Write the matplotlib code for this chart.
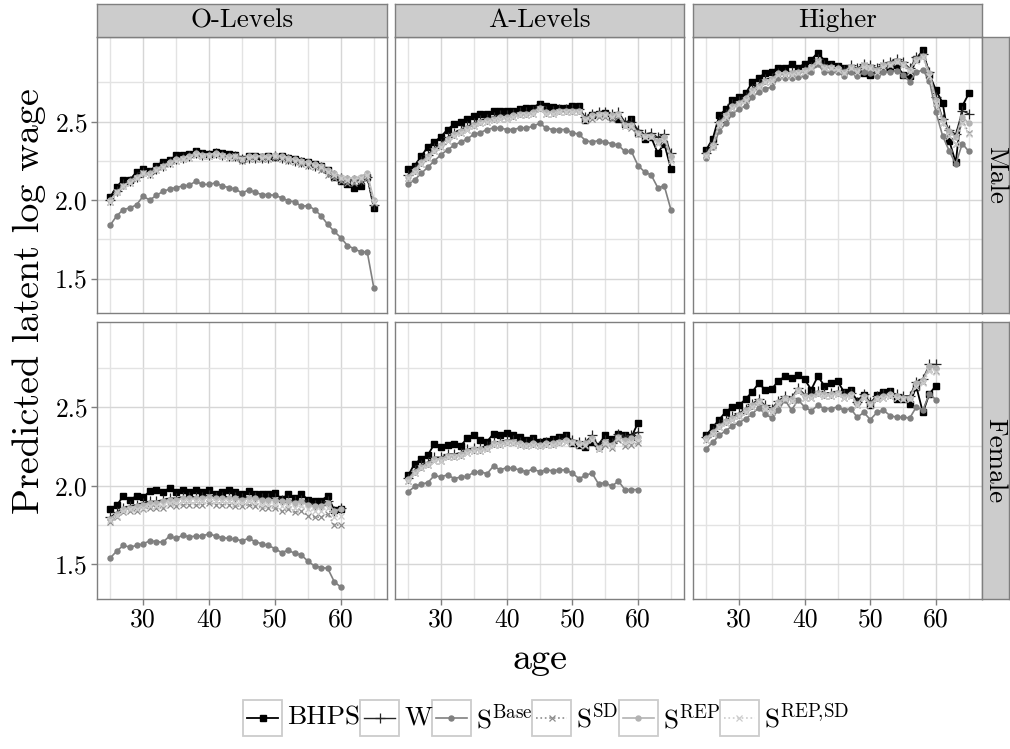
import numpy as np
import matplotlib
matplotlib.use('Agg')
import matplotlib.pyplot as plt
from matplotlib.patches import Rectangle
from matplotlib.lines import Line2D

# --- style: Computer Modern look, ggplot theme_bw colours ---
plt.rcParams['font.family'] = 'cmr10'
plt.rcParams['mathtext.fontset'] = 'cm'
plt.rcParams['axes.unicode_minus'] = False
plt.rcParams['axes.formatter.use_mathtext'] = True

# --- data ---
ages_male = list(range(25, 66))
ages_female = list(range(25, 61))

educations = ['O-Levels', 'A-Levels', 'Higher']
sexes = ['Male', 'Female']

# O-Levels, male
o_m_bhps = [2.02, 2.085, 2.13, 2.13, 2.18, 2.20, 2.185, 2.22, 2.245, 2.255, 2.285, 2.285, 2.295, 2.31, 2.30,
            2.295, 2.305, 2.30, 2.295, 2.29, 2.26, 2.28, 2.28, 2.275, 2.28, 2.275, 2.28, 2.27, 2.265, 2.25,
            2.245, 2.23, 2.22, 2.19, 2.15, 2.12, 2.10, 2.08, 2.09, 2.15, 1.95]
o_m_w = [2.00, 2.06, 2.10, 2.12, 2.15, 2.18, 2.17, 2.20, 2.22, 2.24, 2.26, 2.27, 2.28, 2.30, 2.29, 2.29, 2.30,
         2.29, 2.28, 2.28, 2.26, 2.27, 2.27, 2.27, 2.27, 2.28, 2.27, 2.26, 2.25, 2.24, 2.23, 2.22, 2.21, 2.18,
         2.16, 2.14, 2.13, 2.13, 2.13, 2.15, 1.97]
o_m_base = [1.84, 1.90, 1.94, 1.95, 1.97, 2.025, 2.00, 2.03, 2.055, 2.07, 2.08, 2.09, 2.095, 2.12, 2.10, 2.10,
            2.11, 2.09, 2.08, 2.07, 2.045, 2.065, 2.05, 2.035, 2.035, 2.03, 2.015, 1.995, 1.99, 1.96, 1.965,
            1.94, 1.90, 1.845, 1.80, 1.76, 1.71, 1.69, 1.67, 1.67, 1.44]
o_m_sd = [1.99, 2.05, 2.09, 2.11, 2.14, 2.17, 2.16, 2.19, 2.21, 2.23, 2.25, 2.26, 2.27, 2.29, 2.28, 2.28, 2.29,
          2.28, 2.27, 2.27, 2.25, 2.26, 2.26, 2.26, 2.26, 2.27, 2.26, 2.25, 2.24, 2.23, 2.22, 2.21, 2.19, 2.16,
          2.14, 2.12, 2.11, 2.11, 2.12, 2.14, 1.98]
o_m_rep = [2.00, 2.05, 2.09, 2.12, 2.15, 2.17, 2.17, 2.20, 2.22, 2.24, 2.26, 2.27, 2.28, 2.30, 2.29, 2.29, 2.30,
           2.29, 2.28, 2.28, 2.26, 2.28, 2.28, 2.28, 2.28, 2.29, 2.28, 2.27, 2.26, 2.25, 2.24, 2.23, 2.22, 2.19,
           2.17, 2.15, 2.14, 2.14, 2.15, 2.17, 2.00]
o_m_repsd = [1.99, 2.05, 2.09, 2.11, 2.14, 2.17, 2.16, 2.19, 2.21, 2.23, 2.25, 2.26, 2.27, 2.29, 2.28, 2.28, 2.29,
             2.28, 2.27, 2.28, 2.26, 2.27, 2.27, 2.27, 2.27, 2.28, 2.27, 2.26, 2.25, 2.24, 2.23, 2.22, 2.21, 2.18,
             2.16, 2.14, 2.13, 2.13, 2.14, 2.16, 1.99]

# A-Levels, male
a_m_bhps = [2.20, 2.22, 2.28, 2.34, 2.37, 2.405, 2.45, 2.485, 2.495, 2.52, 2.535, 2.55, 2.55, 2.57, 2.565, 2.57,
            2.565, 2.58, 2.585, 2.59, 2.615, 2.60, 2.595, 2.59, 2.59, 2.60, 2.60, 2.51, 2.54, 2.55, 2.555, 2.53,
            2.515, 2.485, 2.52, 2.43, 2.39, 2.40, 2.30, 2.36, 2.20]
a_m_w = [2.16, 2.20, 2.25, 2.29, 2.33, 2.36, 2.40, 2.43, 2.45, 2.47, 2.49, 2.51, 2.52, 2.53, 2.54, 2.54, 2.55,
         2.56, 2.56, 2.57, 2.60, 2.57, 2.57, 2.58, 2.58, 2.58, 2.58, 2.53, 2.55, 2.56, 2.56, 2.55, 2.56, 2.50,
         2.50, 2.45, 2.42, 2.43, 2.40, 2.42, 2.30]
a_m_base = [2.10, 2.13, 2.17, 2.21, 2.25, 2.29, 2.32, 2.35, 2.37, 2.39, 2.42, 2.43, 2.45, 2.46, 2.46, 2.45, 2.45,
            2.46, 2.46, 2.47, 2.49, 2.46, 2.45, 2.45, 2.45, 2.43, 2.42, 2.38, 2.37, 2.38, 2.37, 2.36, 2.35, 2.31,
            2.31, 2.22, 2.18, 2.16, 2.08, 2.09, 1.94]
a_m_sd = [2.14, 2.18, 2.23, 2.27, 2.31, 2.34, 2.38, 2.41, 2.43, 2.45, 2.47, 2.49, 2.50, 2.51, 2.52, 2.52, 2.53,
          2.54, 2.54, 2.55, 2.58, 2.55, 2.55, 2.56, 2.56, 2.56, 2.56, 2.51, 2.52, 2.53, 2.53, 2.52, 2.53, 2.47,
          2.46, 2.42, 2.40, 2.40, 2.37, 2.39, 2.26]
a_m_rep = [2.15, 2.19, 2.24, 2.28, 2.32, 2.35, 2.39, 2.42, 2.44, 2.46, 2.48, 2.50, 2.51, 2.52, 2.53, 2.53, 2.54,
           2.55, 2.55, 2.56, 2.59, 2.56, 2.56, 2.57, 2.57, 2.57, 2.57, 2.52, 2.54, 2.55, 2.55, 2.54, 2.55, 2.48,
           2.48, 2.43, 2.41, 2.41, 2.38, 2.40, 2.28]
a_m_repsd = [2.14, 2.18, 2.23, 2.27, 2.31, 2.34, 2.38, 2.41, 2.43, 2.45, 2.47, 2.49, 2.50, 2.51, 2.52, 2.52, 2.53,
             2.54, 2.54, 2.55, 2.58, 2.55, 2.55, 2.56, 2.56, 2.56, 2.56, 2.51, 2.53, 2.54, 2.54, 2.53, 2.54, 2.47,
             2.47, 2.42, 2.40, 2.40, 2.36, 2.38, 2.25]

# Higher, male
h_m_bhps = [2.32, 2.39, 2.54, 2.58, 2.64, 2.655, 2.68, 2.75, 2.78, 2.81, 2.82, 2.845, 2.84, 2.87, 2.845, 2.87,
            2.895, 2.94, 2.89, 2.87, 2.855, 2.845, 2.83, 2.815, 2.81, 2.80, 2.82, 2.84, 2.84, 2.86, 2.80, 2.79,
            2.90, 2.955, 2.80, 2.70, 2.62, 2.38, 2.24, 2.60, 2.68]
h_m_w = [2.30, 2.36, 2.50, 2.55, 2.61, 2.63, 2.66, 2.71, 2.74, 2.77, 2.78, 2.81, 2.81, 2.82, 2.82, 2.83, 2.85,
         2.90, 2.86, 2.85, 2.84, 2.83, 2.86, 2.84, 2.87, 2.86, 2.84, 2.87, 2.88, 2.90, 2.88, 2.84, 2.91, 2.93,
         2.82, 2.66, 2.52, 2.45, 2.42, 2.57, 2.55]
h_m_base = [2.27, 2.34, 2.44, 2.49, 2.55, 2.58, 2.60, 2.655, 2.69, 2.71, 2.72, 2.78, 2.78, 2.78, 2.785, 2.79,
            2.82, 2.865, 2.815, 2.815, 2.815, 2.79, 2.82, 2.79, 2.815, 2.81, 2.79, 2.815, 2.82, 2.825, 2.80,
            2.755, 2.815, 2.83, 2.76, 2.56, 2.41, 2.315, 2.23, 2.36, 2.31]
h_m_sd = [2.29, 2.35, 2.48, 2.53, 2.59, 2.61, 2.64, 2.69, 2.72, 2.75, 2.76, 2.80, 2.80, 2.81, 2.81, 2.82, 2.84,
          2.89, 2.85, 2.84, 2.83, 2.82, 2.85, 2.83, 2.86, 2.85, 2.83, 2.86, 2.87, 2.89, 2.87, 2.83, 2.90, 2.92,
          2.79, 2.62, 2.49, 2.41, 2.36, 2.50, 2.43]
h_m_rep = [2.29, 2.35, 2.49, 2.54, 2.60, 2.62, 2.65, 2.70, 2.73, 2.76, 2.77, 2.81, 2.81, 2.81, 2.82, 2.83, 2.85,
           2.89, 2.85, 2.85, 2.84, 2.82, 2.85, 2.83, 2.86, 2.85, 2.83, 2.86, 2.87, 2.89, 2.87, 2.83, 2.90, 2.92,
           2.81, 2.64, 2.51, 2.44, 2.40, 2.53, 2.49]
h_m_repsd = [2.28, 2.34, 2.48, 2.53, 2.59, 2.61, 2.64, 2.69, 2.72, 2.75, 2.76, 2.80, 2.80, 2.80, 2.81, 2.82, 2.84,
             2.88, 2.84, 2.84, 2.83, 2.81, 2.84, 2.82, 2.85, 2.84, 2.82, 2.85, 2.86, 2.88, 2.86, 2.82, 2.89, 2.91,
             2.79, 2.62, 2.49, 2.41, 2.36, 2.49, 2.42]

# O-Levels, female
o_f_bhps = [1.855, 1.875, 1.935, 1.91, 1.935, 1.925, 1.965, 1.97, 1.96, 1.985, 1.96, 1.97, 1.96, 1.97, 1.96,
            1.97, 1.945, 1.96, 1.97, 1.96, 1.945, 1.965, 1.95, 1.95, 1.945, 1.955, 1.915, 1.945, 1.92, 1.95,
            1.91, 1.905, 1.905, 1.935, 1.845, 1.855]
o_f_w = [1.80, 1.83, 1.86, 1.87, 1.88, 1.89, 1.90, 1.90, 1.91, 1.92, 1.92, 1.93, 1.93, 1.93, 1.93, 1.94, 1.93,
         1.93, 1.93, 1.93, 1.92, 1.93, 1.93, 1.92, 1.92, 1.92, 1.91, 1.91, 1.90, 1.91, 1.89, 1.88, 1.88, 1.90,
         1.84, 1.86]
o_f_base = [1.54, 1.585, 1.62, 1.61, 1.62, 1.63, 1.65, 1.645, 1.64, 1.68, 1.665, 1.685, 1.675, 1.68, 1.68, 1.695,
            1.68, 1.67, 1.665, 1.66, 1.65, 1.665, 1.645, 1.63, 1.62, 1.60, 1.575, 1.59, 1.57, 1.56, 1.52, 1.49,
            1.48, 1.475, 1.39, 1.355]
o_f_sd = [1.77, 1.80, 1.83, 1.84, 1.84, 1.85, 1.86, 1.86, 1.86, 1.88, 1.87, 1.88, 1.88, 1.88, 1.88, 1.89, 1.88,
          1.88, 1.88, 1.87, 1.87, 1.88, 1.87, 1.86, 1.86, 1.86, 1.84, 1.85, 1.83, 1.84, 1.81, 1.80, 1.80, 1.82,
          1.75, 1.75]
o_f_rep = [1.79, 1.82, 1.85, 1.86, 1.87, 1.88, 1.89, 1.89, 1.90, 1.91, 1.91, 1.92, 1.92, 1.92, 1.92, 1.93, 1.92,
           1.92, 1.92, 1.92, 1.91, 1.92, 1.92, 1.91, 1.91, 1.91, 1.90, 1.90, 1.89, 1.90, 1.88, 1.87, 1.87, 1.89,
           1.84, 1.85]
o_f_repsd = [1.78, 1.81, 1.84, 1.85, 1.85, 1.86, 1.87, 1.87, 1.88, 1.89, 1.89, 1.90, 1.90, 1.90, 1.90, 1.91, 1.90,
             1.90, 1.90, 1.89, 1.89, 1.90, 1.89, 1.88, 1.88, 1.88, 1.87, 1.87, 1.86, 1.87, 1.85, 1.84, 1.84, 1.86,
             1.80, 1.81]

# A-Levels, female
a_f_bhps = [2.065, 2.14, 2.17, 2.195, 2.265, 2.245, 2.26, 2.265, 2.255, 2.30, 2.32, 2.29, 2.28, 2.33, 2.32,
            2.335, 2.325, 2.31, 2.29, 2.305, 2.28, 2.285, 2.295, 2.31, 2.32, 2.27, 2.26, 2.245, 2.275, 2.255,
            2.325, 2.295, 2.33, 2.32, 2.31, 2.40]
a_f_w = [2.05, 2.10, 2.13, 2.15, 2.18, 2.18, 2.20, 2.20, 2.21, 2.23, 2.24, 2.24, 2.25, 2.28, 2.28, 2.29, 2.29,
         2.28, 2.27, 2.28, 2.27, 2.28, 2.28, 2.29, 2.30, 2.29, 2.28, 2.28, 2.32, 2.25, 2.29, 2.27, 2.33, 2.31,
         2.32, 2.34]
a_f_base = [1.96, 1.995, 2.01, 2.02, 2.065, 2.055, 2.07, 2.045, 2.055, 2.06, 2.085, 2.09, 2.075, 2.125, 2.10,
            2.115, 2.11, 2.10, 2.09, 2.105, 2.09, 2.10, 2.095, 2.10, 2.10, 2.08, 2.045, 2.065, 2.08, 2.01, 2.02,
            1.995, 2.03, 1.975, 1.975, 1.975]
a_f_sd = [2.03, 2.08, 2.11, 2.13, 2.16, 2.16, 2.18, 2.18, 2.19, 2.21, 2.22, 2.22, 2.23, 2.26, 2.26, 2.27, 2.27,
          2.26, 2.25, 2.26, 2.25, 2.26, 2.26, 2.27, 2.28, 2.27, 2.26, 2.25, 2.29, 2.23, 2.26, 2.24, 2.29, 2.25,
          2.26, 2.27]
a_f_rep = [2.04, 2.09, 2.12, 2.14, 2.17, 2.17, 2.19, 2.19, 2.20, 2.22, 2.23, 2.23, 2.24, 2.27, 2.27, 2.28, 2.28,
           2.27, 2.26, 2.27, 2.26, 2.27, 2.27, 2.28, 2.29, 2.28, 2.27, 2.27, 2.30, 2.24, 2.28, 2.26, 2.31, 2.29,
           2.30, 2.31]
a_f_repsd = [2.03, 2.08, 2.11, 2.13, 2.16, 2.16, 2.18, 2.18, 2.19, 2.21, 2.22, 2.22, 2.23, 2.26, 2.26, 2.27, 2.27,
             2.26, 2.25, 2.26, 2.25, 2.26, 2.26, 2.27, 2.28, 2.27, 2.26, 2.26, 2.29, 2.23, 2.27, 2.25, 2.30, 2.27,
             2.28, 2.29]

# Higher, female
h_f_bhps = [2.32, 2.37, 2.42, 2.47, 2.50, 2.51, 2.55, 2.595, 2.65, 2.61, 2.615, 2.665, 2.695, 2.685, 2.705,
            2.675, 2.61, 2.695, 2.635, 2.655, 2.665, 2.595, 2.605, 2.54, 2.575, 2.51, 2.575, 2.595, 2.60, 2.55,
            2.55, 2.52, 2.63, 2.465, 2.585, 2.635]
h_f_w = [2.31, 2.35, 2.39, 2.42, 2.44, 2.46, 2.49, 2.52, 2.55, 2.51, 2.49, 2.54, 2.57, 2.56, 2.62, 2.58, 2.58,
         2.60, 2.59, 2.59, 2.60, 2.58, 2.59, 2.53, 2.58, 2.53, 2.57, 2.58, 2.59, 2.58, 2.57, 2.57, 2.66, 2.68,
         2.77, 2.77]
h_f_base = [2.235, 2.275, 2.32, 2.35, 2.38, 2.40, 2.425, 2.455, 2.495, 2.455, 2.43, 2.48, 2.545, 2.48, 2.545,
            2.50, 2.475, 2.51, 2.49, 2.49, 2.50, 2.48, 2.49, 2.435, 2.465, 2.42, 2.465, 2.48, 2.445, 2.435, 2.435,
            2.43, 2.50, 2.48, 2.585, 2.545]
h_f_sd = [2.29, 2.33, 2.37, 2.40, 2.42, 2.44, 2.47, 2.50, 2.53, 2.49, 2.47, 2.52, 2.55, 2.54, 2.60, 2.56, 2.56,
          2.58, 2.57, 2.57, 2.58, 2.56, 2.57, 2.51, 2.56, 2.51, 2.55, 2.56, 2.57, 2.56, 2.55, 2.55, 2.64, 2.66,
          2.74, 2.73]
h_f_rep = [2.30, 2.34, 2.38, 2.41, 2.43, 2.45, 2.48, 2.51, 2.54, 2.50, 2.48, 2.53, 2.56, 2.55, 2.61, 2.57, 2.57,
           2.59, 2.58, 2.58, 2.59, 2.57, 2.58, 2.52, 2.57, 2.52, 2.56, 2.57, 2.58, 2.57, 2.56, 2.56, 2.65, 2.67,
           2.76, 2.75]
h_f_repsd = [2.29, 2.33, 2.37, 2.40, 2.42, 2.44, 2.47, 2.50, 2.53, 2.49, 2.47, 2.52, 2.55, 2.54, 2.60, 2.56, 2.56,
             2.58, 2.57, 2.57, 2.58, 2.56, 2.57, 2.51, 2.56, 2.51, 2.55, 2.56, 2.57, 2.56, 2.55, 2.55, 2.63, 2.65,
             2.73, 2.72]

panel_data = {
    ('O-Levels', 'Male'): [o_m_bhps, o_m_w, o_m_base, o_m_sd, o_m_rep, o_m_repsd],
    ('A-Levels', 'Male'): [a_m_bhps, a_m_w, a_m_base, a_m_sd, a_m_rep, a_m_repsd],
    ('Higher', 'Male'): [h_m_bhps, h_m_w, h_m_base, h_m_sd, h_m_rep, h_m_repsd],
    ('O-Levels', 'Female'): [o_f_bhps, o_f_w, o_f_base, o_f_sd, o_f_rep, o_f_repsd],
    ('A-Levels', 'Female'): [a_f_bhps, a_f_w, a_f_base, a_f_sd, a_f_rep, a_f_repsd],
    ('Higher', 'Female'): [h_f_bhps, h_f_w, h_f_base, h_f_sd, h_f_rep, h_f_repsd],
}

series_labels = ['BHPS', 'W', r'S$^{\mathrm{Base}}$', r'S$^{\mathrm{SD}}$',
                 r'S$^{\mathrm{REP}}$', r'S$^{\mathrm{REP}\!,\!\mathrm{SD}}$']
series_styles = [
    dict(color='black', ls='-', lw=1.3, marker='s', ms=5.0),
    dict(color='#262626', ls='-', lw=1.0, marker='+', ms=7.0, mew=0.9),
    dict(color='#808080', ls='-', lw=1.2, marker='o', ms=3.6),
    dict(color='#8c8c8c', ls=':', lw=1.2, marker='x', ms=4.8, mew=0.9),
    dict(color='#b3b3b3', ls='-', lw=1.2, marker='o', ms=3.6),
    dict(color='#cccccc', ls=':', lw=1.2, marker='x', ms=4.8, mew=0.9),
]

# --- layout (pixels) ---
W_PX, H_PX = 1010, 749
col_px = [(97, 387), (395, 684), (693, 982)]
row_px = [(37, 313), (322, 599)]
strip_top = 4
strip_right = 1009

GREY50 = '#7f7f7f'
STRIP = '#cccccc'
tick_fs = 18.5
strip_fs = 19.5
title_fs = 27.5
legend_fs = 19.5

fig = plt.figure(figsize=(W_PX / 100, H_PX / 100), dpi=100)


def px_axes(x0, y0, x1, y1, **kw):
    return fig.add_axes([x0 / W_PX, 1 - y1 / H_PX, (x1 - x0) / W_PX, (y1 - y0) / H_PX], **kw)


def strip_axes(x0, y0, x1, y1, label, rotation=0):
    s = px_axes(x0, y0, x1, y1)
    s.set_facecolor(STRIP)
    s.set_xticks([])
    s.set_yticks([])
    for sp in s.spines.values():
        sp.set_color(GREY50)
        sp.set_linewidth(1.0)
    s.text(0.5, 0.5, label, transform=s.transAxes, ha='center', va='center',
           fontsize=strip_fs, rotation=rotation)
    return s


for r, sex in enumerate(sexes):
    y0, y1 = row_px[r]
    ages = ages_male if sex == 'Male' else ages_female
    for c, edu in enumerate(educations):
        x0, x1 = col_px[c]
        ax = px_axes(x0, y0, x1, y1)
        for vals, style in zip(panel_data[(edu, sex)], series_styles):
            ax.plot(ages, vals, zorder=3, **style)

        ax.set_xlim(23, 67)
        ax.set_ylim(1.28, 3.04)
        ax.set_xticks([30, 40, 50, 60])
        ax.set_xticks([25, 35, 45, 55, 65], minor=True)
        ax.set_yticks([1.5, 2.0, 2.5])
        ax.set_yticks([1.75, 2.25, 2.75], minor=True)
        ax.grid(which='major', color='#d6d6d6', lw=1.0, zorder=0)
        ax.grid(which='minor', color='#e3e3e3', lw=1.0, zorder=0)
        ax.set_axisbelow(True)
        ax.tick_params(which='major', direction='out', length=4.5, width=1.0, color=GREY50,
                       labelsize=tick_fs, pad=2)
        ax.tick_params(which='minor', length=0)
        for sp in ax.spines.values():
            sp.set_color(GREY50)
            sp.set_linewidth(1.0)

        if c == 0:
            ax.set_yticklabels(['1.5', '2.0', '2.5'])
        else:
            ax.tick_params(axis='y', which='major', length=0, labelleft=False)
        if r == 1:
            ax.set_xticklabels(['30', '40', '50', '60'])
        else:
            ax.tick_params(axis='x', which='major', length=0, labelbottom=False)

        if r == 0:
            strip_axes(x0, strip_top, x1, y0, edu)
    strip_axes(col_px[-1][1], y0, strip_right, y1, sex, rotation=-90)

# axis titles
fig.text((col_px[0][0] + col_px[-1][1]) / 2 / W_PX, 1 - 659 / H_PX, 'age',
         ha='center', va='center', fontsize=title_fs)
fig.text(29 / W_PX, 1 - (strip_top + row_px[-1][1]) / 2 / H_PX, 'Predicted latent log wage',
         ha='center', va='center', rotation=90, fontsize=title_fs)

# --- legend, ggplot style: boxed keys followed by labels ---
fig.canvas.draw()
renderer = fig.canvas.get_renderer()
key_w, key_h = 39, 36
text_pad = 5
legend_yc = 718
texts = []
widths = []
for lab in series_labels:
    t = fig.text(0, 0, lab, fontsize=legend_fs, ha='left', va='center')
    texts.append(t)
    widths.append(t.get_window_extent(renderer).width)
total_w = sum(key_w + text_pad + w for w in widths)
x = 546 - total_w / 2
yc = 1 - legend_yc / H_PX
for t, w, style in zip(texts, widths, series_styles):
    fig.add_artist(Rectangle((x / W_PX, 1 - (legend_yc + key_h / 2) / H_PX), key_w / W_PX, key_h / H_PX,
                             transform=fig.transFigure, facecolor='white', edgecolor='#cccccc', lw=1.3))
    fig.add_artist(Line2D([(x + 4) / W_PX, (x + key_w / 2) / W_PX, (x + key_w - 4) / W_PX], [yc, yc, yc],
                          transform=fig.transFigure, markevery=[1], **style))
    t.set_position(((x + key_w + text_pad) / W_PX, yc))
    x += key_w + text_pad + w

fig.savefig('out.png', dpi=100)
